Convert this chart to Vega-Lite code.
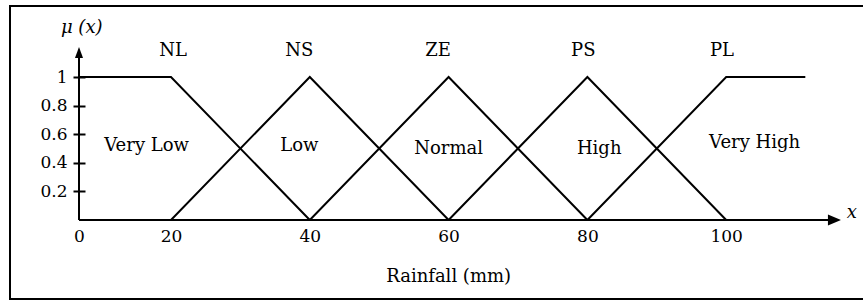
{
  "$schema": "https://vega.github.io/schema/vega-lite/v6.json",
  "width": 860,
  "height": 293,
  "autosize": {"type": "none"},
  "padding": {"left": 10, "top": 6, "right": 0, "bottom": 2},
  "background": "white",
  "config": {"view": {"stroke": "#000", "strokeWidth": 2}, "font": "DejaVu Serif"},
  "datasets": {
    "mf": [
      {"set": "NL", "x": 0, "y": 1}, {"set": "NL", "x": 20, "y": 1}, {"set": "NL", "x": 40, "y": 0},
      {"set": "NS", "x": 20, "y": 0}, {"set": "NS", "x": 40, "y": 1}, {"set": "NS", "x": 60, "y": 0},
      {"set": "ZE", "x": 40, "y": 0}, {"set": "ZE", "x": 60, "y": 1}, {"set": "ZE", "x": 80, "y": 0},
      {"set": "PS", "x": 60, "y": 0}, {"set": "PS", "x": 80, "y": 1}, {"set": "PS", "x": 100, "y": 0},
      {"set": "PL", "x": 80, "y": 0}, {"set": "PL", "x": 100, "y": 1}, {"set": "PL", "x": 111.4, "y": 1}
    ],
    "axislines": [
      {"x": 0, "y": 0, "x2": 115, "y2": 0},
      {"x": 0, "y": 0, "x2": 0, "y2": 1.15}
    ],
    "arrows": [
      {"dir": "x", "x": 115.6, "y": 0},
      {"dir": "y", "x": 0, "y": 1.171}
    ],
    "words": [
      {"label": "NL", "x": 20.3, "y": 1.18},
      {"label": "NS", "x": 38.5, "y": 1.18},
      {"label": "ZE", "x": 58.5, "y": 1.18},
      {"label": "PS", "x": 79.4, "y": 1.18},
      {"label": "PL", "x": 99.4, "y": 1.18},
      {"label": "Very Low", "x": 14.7, "y": 0.52},
      {"label": "Low", "x": 38.5, "y": 0.52},
      {"label": "Normal", "x": 60, "y": 0.5},
      {"label": "High", "x": 81.7, "y": 0.5},
      {"label": "Very High", "x": 104.1, "y": 0.535},
      {"label": "Rainfall (mm)", "x": 60, "y": -0.4}
    ],
    "italic": [
      {"label": "μ (x)", "x": 0.6, "y": 1.34},
      {"label": "x", "x": 118.1, "y": 0.05}
    ]
  },
  "encoding": {
    "x": {
      "field": "x", "type": "quantitative",
      "scale": {"domain": [0, 20, 120], "range": [69, 161, 855], "nice": false, "zero": false},
      "axis": {"values": [0, 20, 40, 60, 80, 100], "domain": false, "ticks": false, "grid": false, "title": null,
               "labelFontSize": 17, "labelFont": "DejaVu Serif", "labelColor": "black", "labelPadding": 8,
               "offset": -79, "labelFlush": false, "labelOverlap": false}
    },
    "y": {
      "field": "y", "type": "quantitative",
      "scale": {"domain": [0, 1], "range": [214, 71], "nice": false, "zero": false},
      "axis": {"values": [0.2, 0.4, 0.6, 0.8, 1], "format": ".1~f", "domain": false, "ticks": true, "tickSize": 12,
               "tickWidth": 2, "tickColor": "black", "grid": false, "title": null, "labelFontSize": 17,
               "labelFont": "DejaVu Serif", "labelColor": "black", "labelPadding": 6, "offset": -75,
               "labelFlush": false, "labelOverlap": false}
    }
  },
  "layer": [
    {
      "data": {"name": "axislines"},
      "mark": {"type": "rule", "color": "black", "strokeWidth": 2},
      "encoding": {"x2": {"field": "x2"}, "y2": {"field": "y2"}}
    },
    {
      "data": {"name": "mf"},
      "mark": {"type": "line", "color": "black", "strokeWidth": 2},
      "encoding": {"detail": {"field": "set", "type": "nominal"}}
    },
    {
      "data": {"name": "arrows"},
      "mark": {"type": "point", "filled": true, "color": "black", "opacity": 1, "size": 169, "strokeWidth": 0},
      "encoding": {
        "shape": {"field": "dir", "type": "nominal", "legend": null,
                  "scale": {"domain": ["x", "y"], "range": ["M1,0L-1,-0.85L-1,0.85Z", "M0,-0.85L-0.62,0.85L0.62,0.85Z"]}}
      }
    },
    {
      "data": {"name": "words"},
      "mark": {"type": "text", "fontSize": 18, "font": "DejaVu Serif", "color": "black", "align": "center", "baseline": "middle"},
      "encoding": {"text": {"field": "label"}}
    },
    {
      "data": {"name": "italic"},
      "mark": {"type": "text", "fontSize": 18, "font": "DejaVu Serif", "fontStyle": "italic", "color": "black", "align": "center", "baseline": "middle"},
      "encoding": {"text": {"field": "label"}}
    }
  ]
}
